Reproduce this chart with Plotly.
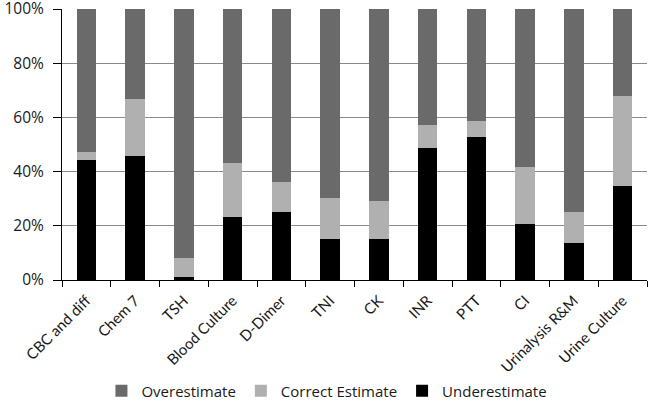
import plotly.graph_objects as go

categories = ["CBC and diff", "Chem 7", "TSH", "Blood Culture", "D-Dimer", "TNI", "CK",
              "INR", "PTT", "CI", "Urinalysis R&M", "Urine Culture"]
underestimate = [44.3, 45.8, 1.1, 23.4, 25.1, 15.1, 15.1, 48.8, 52.8, 20.8, 13.8, 34.8]
correct_estimate = [3.0, 20.9, 6.9, 19.6, 10.9, 15.3, 13.9, 8.3, 5.7, 21.0, 11.4, 33.1]
overestimate = [round(100 - u - c, 1) for u, c in zip(underestimate, correct_estimate)]
y_ticks = [0, 20, 40, 60, 80, 100]
y_tick_labels = ["0%", "20%", "40%", "60%", "80%", "100%"]

fig = go.Figure()
fig.add_trace(go.Bar(x=categories, y=underestimate, name="Underestimate",
                     marker=dict(color="#000000", line=dict(width=0))))
fig.add_trace(go.Bar(x=categories, y=correct_estimate, name="Correct Estimate",
                     marker=dict(color="#b0b0b0", line=dict(width=0))))
fig.add_trace(go.Bar(x=categories, y=overestimate, name="Overestimate",
                     marker=dict(color="#6a6a6a", line=dict(width=0))))

fig.update_layout(
    width=650, height=401,
    barmode="stack", bargap=0.6,
    plot_bgcolor="white", paper_bgcolor="white",
    margin=dict(l=62, r=3, t=9, b=121),
    font=dict(family="Open Sans, Liberation Sans, sans-serif", size=14, color="#1a1a1a"),
    legend=dict(orientation="h", xref="container", yref="container",
                x=0.503, xanchor="center", y=0.025, yanchor="middle",
                traceorder="reversed", font=dict(size=15), itemwidth=30,
                tracegroupgap=0, bgcolor="rgba(0,0,0,0)"),
    xaxis=dict(tickangle=-45, showline=True, linecolor="#000000", linewidth=1,
               ticks="outside", tickson="boundaries", ticklen=6, tickcolor="#000000",
               showgrid=False, tickfont=dict(family="Lato, Open Sans, sans-serif", size=15),
               automargin=False, ticklabelstandoff=5),
    yaxis=dict(range=[0, 100], tickvals=y_ticks, ticktext=y_tick_labels,
               showline=True, linecolor="#000000", linewidth=1,
               ticks="outside", ticklen=8, tickcolor="#000000",
               showgrid=True, gridcolor="#8a8a8a", gridwidth=1, zeroline=False,
               tickfont=dict(size=15.5), automargin=False, ticklabeloverflow="allow",
               ticklabelstandoff=6),
)

fig.write_html("out.html", config={"displayModeBar": False},
               post_script="document.body.style.margin='0';document.body.style.overflow='hidden';")
